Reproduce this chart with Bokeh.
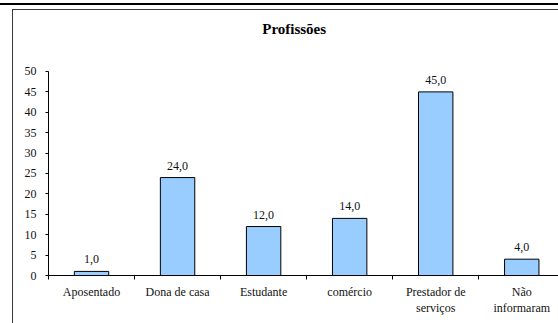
from bokeh.plotting import figure
from bokeh.models import Range1d, FixedTicker, ColumnDataSource, InlineStyleSheet, Label
from bokeh.embed import file_html
from bokeh.resources import INLINE

# Data
categories = ["Aposentado", "Dona de casa", "Estudante", "comércio",
              "Prestador de\nserviços", "Não\ninformaram"]
values = [1.0, 24.0, 12.0, 14.0, 45.0, 4.0]
value_labels = ["1,0", "24,0", "12,0", "14,0", "45,0", "4,0"]
y_ticks = list(range(0, 55, 5))

FONT = "'Liberation Serif', 'Times New Roman', serif"

centers = [i + 0.5 for i in range(len(categories))]
source = ColumnDataSource(dict(x=centers, top=values, label=value_labels))

# page rules above the chart and the chart's left/top border
frame_css = InlineStyleSheet(css="""
:host { position: relative; }
:host::before {
  content: ""; position: absolute; left: 0; top: 3px; width: 558px; height: 2px;
  background: #000; z-index: 10; pointer-events: none;
}
:host::after {
  content: ""; position: absolute; left: 12px; top: 9px; width: 560px; height: 320px;
  border-top: 1px solid #3a3a3a; border-left: 1px solid #3a3a3a;
  z-index: 10; pointer-events: none;
}
""")

# the plotting frame runs up to the top of the canvas; the y axis stops at 50
p = figure(width=558, height=323, output_backend="svg", toolbar_location=None,
           x_range=Range1d(0, 5.927), y_range=Range1d(0, 67.4),
           min_border_left=48, min_border_right=0, min_border_top=0,
           min_border_bottom=48, stylesheets=[frame_css])
p.outline_line_color = None
p.xgrid.visible = False
p.ygrid.visible = False
p.background_fill_color = "white"
p.border_fill_color = "white"

p.add_layout(Label(x=2.855, y=60.4, text="Profissões", text_font=FONT,
                   text_font_size="15px", text_font_style="bold",
                   text_align="center", text_baseline="middle",
                   text_color="black"))

p.vbar(x="x", top="top", width=0.4, source=source,
       fill_color="#99CCFF", line_color="black", line_width=1)

p.text(x="x", y="top", text="label", source=source, text_align="center",
       text_baseline="alphabetic", y_offset=-12, text_font=FONT,
       text_font_size="12px", text_color="#111111")

# y axis
yax = p.yaxis[0]
yax.ticker = FixedTicker(ticks=y_ticks)
yax.bounds = (0, 50)
yax.major_tick_out = 3
yax.major_tick_in = 0
yax.minor_tick_out = 0
yax.minor_tick_in = 0
yax.axis_line_color = "black"
yax.major_tick_line_color = "black"
yax.major_label_text_font = FONT
yax.major_label_text_font_size = "12px"
yax.major_label_text_color = "#111111"
yax.major_label_standoff = 9

# x axis: ticks between categories, labels at the centres
xax = p.xaxis[0]
xax.ticker = FixedTicker(ticks=centers, minor_ticks=list(range(len(categories) + 1)))
xax.major_label_overrides = {c: lab for c, lab in zip(centers, categories)}
xax.major_tick_out = 0
xax.major_tick_in = 0
xax.minor_tick_out = 4
xax.minor_tick_in = 0
xax.minor_tick_line_color = "black"
xax.axis_line_color = "black"
xax.major_label_text_font = FONT
xax.major_label_text_font_size = "12px"
xax.major_label_text_color = "#111111"
xax.major_label_standoff = 5

open("out.html", "w").write(file_html(p, INLINE))
